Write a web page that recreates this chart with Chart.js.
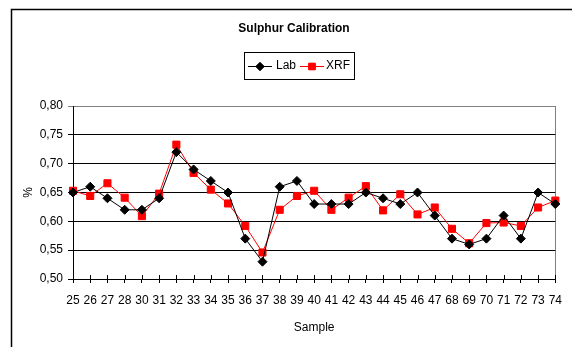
<!DOCTYPE html>
<html>
<head>
<meta charset="utf-8">
<script src="https://cdn.jsdelivr.net/npm/chart.js@4"></script>
<style>
  html, body { margin: 0; padding: 0; background: #fff; }
  #wrap { width: 572px; height: 347px; position: relative; }
</style>
</head>
<body>
<div id="wrap"><canvas id="sulphurChart" width="572" height="347"></canvas></div>
<script>
// Sample numbers along the x axis
const samples = ['25', '26', '27', '28', '30', '31', '32', '33', '34', '35', '36', '37', '38', '39', '40',
                 '41', '42', '43', '44', '45', '46', '47', '68', '69', '70', '71', '72', '73', '74'];

// Sulphur content (%) - laboratory reference
const labValues = [0.65, 0.66, 0.64, 0.62, 0.62, 0.64, 0.72, 0.69, 0.67, 0.65, 0.57, 0.53, 0.66, 0.67, 0.63,
                   0.63, 0.63, 0.65, 0.64, 0.63, 0.65, 0.61, 0.57, 0.56, 0.57, 0.61, 0.57, 0.65, 0.63];

// Sulphur content (%) - XRF measurement
const xrfValues = [0.653, 0.644, 0.666, 0.641, 0.609, 0.648, 0.733, 0.684, 0.655, 0.631, 0.592, 0.546, 0.620, 0.644, 0.653,
                   0.620, 0.641, 0.661, 0.619, 0.647, 0.612, 0.624, 0.587, 0.562, 0.597, 0.598, 0.592, 0.624, 0.636];

const yMin = 0.5;
const yMax = 0.8;
const yStep = 0.05;

const FONT = 'Arial, "Liberation Sans", sans-serif';

const seriesStyles = [
    { label: 'Lab', color: '#000000', pointStyle: 'rectRot', radius: 4.5 },
    { label: 'XRF', color: '#ff0000', pointStyle: 'rect', radius: 5 }
];

// Outer frame, title, boxed legend and crossing x ticks
const decorPlugin = {
    id: 'decor',
    beforeDraw(chart) {
        const ctx = chart.ctx;
        const area = chart.chartArea;
        ctx.save();
        // frame around the whole chart
        ctx.strokeStyle = '#000';
        ctx.lineWidth = 1.5;
        ctx.beginPath();
        ctx.moveTo(11.5, chart.height + 2);
        ctx.lineTo(11.5, 9.5);
        ctx.lineTo(chart.width + 2, 9.5);
        ctx.stroke();
        // plot area border (top/right in grey)
        ctx.strokeStyle = '#808080';
        ctx.lineWidth = 1;
        ctx.strokeRect(Math.round(area.left) + 0.5, Math.round(area.top) + 0.5,
                       Math.round(area.right - area.left), Math.round(area.bottom - area.top));
        ctx.restore();
    },
    afterDraw(chart) {
        const ctx = chart.ctx;
        const xScale = chart.scales.x;
        ctx.save();

        // title
        ctx.fillStyle = '#000';
        ctx.font = 'bold 12px ' + FONT;
        ctx.textAlign = 'center';
        ctx.textBaseline = 'middle';
        ctx.fillText('Sulphur Calibration', 294, 29);

        // legend box
        ctx.strokeStyle = '#000';
        ctx.lineWidth = 1;
        ctx.strokeRect(244.5, 52.5, 110, 27);
        ctx.font = '12px ' + FONT;
        ctx.textAlign = 'left';
        const legendY = 66;
        const items = [{ x: 248, textX: 276 }, { x: 300, textX: 326 }];
        items.forEach((it, i) => {
            const s = seriesStyles[i];
            ctx.strokeStyle = s.color;
            ctx.lineWidth = 1;
            ctx.beginPath();
            ctx.moveTo(it.x, legendY + 0.5);
            ctx.lineTo(it.x + 24, legendY + 0.5);
            ctx.stroke();
            ctx.fillStyle = s.color;
            Chart.helpers.drawPoint(ctx, {
                pointStyle: s.pointStyle, radius: s.radius - 0.5, borderWidth: 1, rotation: 0
            }, it.x + 12, legendY + 0.5);
            ctx.fill();
            ctx.stroke();
            ctx.fillStyle = '#000';
            ctx.fillText(s.label, it.textX, legendY);
        });

        // x tick marks crossing the axis line
        ctx.strokeStyle = '#000';
        ctx.lineWidth = 1;
        const yb = Math.round(chart.chartArea.bottom);
        ctx.beginPath();
        xScale.ticks.forEach((t, i) => {
            const px = Math.round(xScale.getPixelForTick(i)) + 0.5;
            ctx.moveTo(px, yb - 4);
            ctx.lineTo(px, yb);
        });
        ctx.stroke();
        ctx.restore();
    }
};

const ctx = document.getElementById('sulphurChart').getContext('2d');
const chart = new Chart(ctx, {
    type: 'line',
    data: {
        labels: samples,
        datasets: [labValues, xrfValues].map((vals, i) => ({
            label: seriesStyles[i].label,
            data: vals,
            borderColor: seriesStyles[i].color,
            backgroundColor: seriesStyles[i].color,
            borderWidth: 1,
            pointStyle: seriesStyles[i].pointStyle,
            pointRadius: seriesStyles[i].radius,
            pointBorderWidth: 1,
            pointBorderColor: seriesStyles[i].color,
            pointBackgroundColor: seriesStyles[i].color,
            tension: 0,
            fill: false
        }))
    },
    options: {
        responsive: false,
        devicePixelRatio: 1,
        animation: false,
        layout: { padding: { top: 106, right: 10, left: 0, bottom: 0 } },
        plugins: {
            legend: { display: false },
            title: { display: false },
            tooltip: { enabled: false }
        },
        scales: {
            x: {
                type: 'category',
                offset: false,
                afterFit(scale) { scale.height = 68; },
                grid: { drawOnChartArea: false, tickLength: 4, color: '#000' },
                border: { display: true, color: '#000', width: 1 },
                ticks: {
                    color: '#000',
                    font: { family: FONT, size: 12 },
                    padding: 10,
                    autoSkip: false,
                    maxRotation: 0
                },
                title: {
                    display: true,
                    text: 'Sample',
                    color: '#000',
                    font: { family: FONT, size: 12 },
                    padding: { top: 0, bottom: 12 }
                }
            },
            y: {
                min: yMin,
                max: yMax,
                afterFit(scale) { scale.width = 73; },
                grid: {
                    color: (c) => (c.tick && c.tick.value >= yMax - 1e-9) ? '#808080' : '#000',
                    tickLength: 5,
                    lineWidth: 1
                },
                border: { display: true, color: '#000', width: 1 },
                ticks: {
                    stepSize: yStep,
                    color: '#000',
                    padding: 5,
                    font: { family: FONT, size: 12 },
                    callback: (v) => Number(v).toFixed(2).replace('.', ',')
                },
                title: {
                    display: true,
                    text: '%',
                    color: '#000',
                    font: { family: FONT, size: 12 },
                    padding: { top: 21, bottom: 0 }
                }
            }
        }
    },
    plugins: [decorPlugin]
});
</script>
</body>
</html>
